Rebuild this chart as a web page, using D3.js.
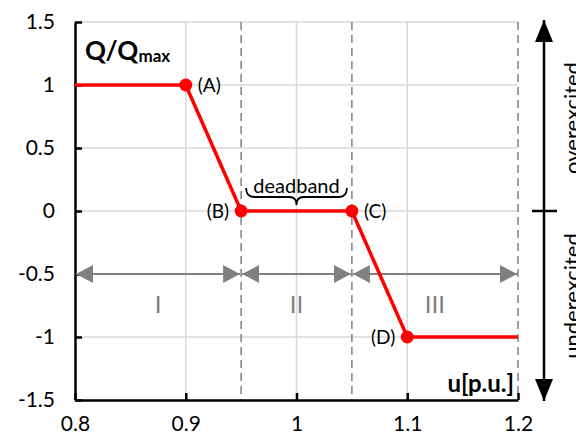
<!DOCTYPE html>
<html>
<head>
<meta charset="utf-8">
<script src="https://cdn.jsdelivr.net/npm/d3@7"></script>
<style>
  body { margin: 0; background: #fff; }
  svg { display: block; font-family: Lato, "Open Sans", sans-serif; }
</style>
</head>
<body>
<svg id="chart" width="576" height="443"></svg>
<script>
// characteristic curve Q(u)
const uPts = [0.8, 0.9, 0.95, 1.05, 1.1, 1.2];
const qPts = [1, 1, 0, 0, -1, -1];
const pointLabels = ["(A)", "(B)", "(C)", "(D)"];
const xTicks = [0.8, 0.9, 1, 1.1, 1.2];
const yTicks = [-1.5, -1, -0.5, 0, 0.5, 1, 1.5];
const bandEdges = [0.8, 0.95, 1.05, 1.2];
const bandNames = ["I", "II", "III"];

const svg = d3.select("#chart");
const x = d3.scaleLinear().domain([0.8, 1.2]).range([75, 518]);
const y = d3.scaleLinear().domain([-1.5, 1.5]).range([400, 22]);

const grey = "#808080";

// horizontal grid
svg.append("g").selectAll("line")
  .data(yTicks.filter(d => d > -1.5))
  .enter().append("line")
  .attr("x1", x(0.8)).attr("x2", x(1.2))
  .attr("y1", d => y(d)).attr("y2", d => y(d))
  .attr("stroke", "#d9d9d9").attr("stroke-width", 1.5);

// vertical grid
svg.append("g").selectAll("line")
  .data([0.9, 1, 1.1])
  .enter().append("line")
  .attr("x1", d => x(d)).attr("x2", d => x(d))
  .attr("y1", y(1.5)).attr("y2", y(-1.5))
  .attr("stroke", "#d9d9d9").attr("stroke-width", 1.5);

// dashed band borders
svg.append("g").selectAll("line")
  .data(bandEdges.slice(1))
  .enter().append("line")
  .attr("x1", d => x(d)).attr("x2", d => x(d))
  .attr("y1", y(1.5)).attr("y2", y(-1.5))
  .attr("stroke", grey).attr("stroke-width", 1.5)
  .attr("stroke-dasharray", "8,5");

// axes (plain hyphen for negatives, like the original)
const fmt = d => String(d);
const yAxis = svg.append("g").attr("transform", `translate(${x(0.8)},0)`)
  .call(d3.axisLeft(y).tickValues(yTicks).tickFormat(fmt).tickSizeInner(-7).tickSizeOuter(0).tickPadding(20));
const xAxis = svg.append("g").attr("transform", `translate(0,${y(-1.5)})`)
  .call(d3.axisBottom(x).tickValues(xTicks).tickFormat(fmt).tickSizeInner(-7).tickSizeOuter(0).tickPadding(16));
[yAxis, xAxis].forEach(a => {
  a.select(".domain").attr("stroke", "#000").attr("stroke-width", 2.5);
  a.selectAll(".tick line").attr("stroke", "#000").attr("stroke-width", 2.5);
  a.selectAll("text").attr("font-size", 21).attr("fill", "#000")
    .attr("font-family", "Lato, 'Open Sans', sans-serif");
});

// arrow markers
const defs = svg.append("defs");
function marker(id, color, w, h) {
  defs.append("marker").attr("id", id)
    .attr("viewBox", `0 0 ${h} ${w}`).attr("refX", h).attr("refY", w / 2)
    .attr("markerWidth", h).attr("markerHeight", w)
    .attr("markerUnits", "userSpaceOnUse").attr("orient", "auto-start-reverse")
    .append("path").attr("d", `M0,0L${h},${w / 2}L0,${w}Z`).attr("fill", color);
}
marker("ag", grey, 18, 17);
marker("ab", "#000", 18, 22);

// region arrows
const bands = bandNames.map((n, i) => ({ name: n, a: bandEdges[i], b: bandEdges[i + 1] }));
svg.append("g").selectAll("line")
  .data(bands).enter().append("line")
  .attr("x1", d => x(d.a) + 1).attr("x2", d => x(d.b) - 1)
  .attr("y1", y(-0.5)).attr("y2", y(-0.5))
  .attr("stroke", grey).attr("stroke-width", 2)
  .attr("marker-start", "url(#ag)").attr("marker-end", "url(#ag)");
svg.append("g").selectAll("text")
  .data(bands).enter().append("text")
  .attr("x", d => x((d.a + d.b) / 2)).attr("y", y(-0.5) + 39)
  .attr("text-anchor", "middle").attr("font-size", 24).attr("fill", grey)
  .text(d => d.name);

// deadband brace
const bx1 = x(0.95) + 5, bx2 = x(1.05) - 5, bm = (bx1 + bx2) / 2, by = 197;
svg.append("path")
  .attr("d", `M${bx1},${by - 9} Q${bx1},${by} ${bx1 + 8},${by} L${bm - 7},${by} Q${bm},${by} ${bm},${by + 8} Q${bm},${by} ${bm + 7},${by} L${bx2 - 8},${by} Q${bx2},${by} ${bx2},${by - 9}`)
  .attr("fill", "none").attr("stroke", "#000").attr("stroke-width", 1.8);
svg.append("text").attr("x", bm).attr("y", 193)
  .attr("text-anchor", "middle").attr("font-size", 20).text("deadband");

// curve
const pts = uPts.map((u, i) => ({ u: u, q: qPts[i] }));
svg.append("path").datum(pts)
  .attr("d", d3.line().x(d => x(d.u)).y(d => y(d.q)))
  .attr("fill", "none").attr("stroke", "#ff0000").attr("stroke-width", 3.5);
const knees = pts.slice(1, 5).map((p, i) => ({ ...p, label: pointLabels[i] }));
svg.append("g").selectAll("circle")
  .data(knees).enter().append("circle")
  .attr("cx", d => x(d.u)).attr("cy", d => y(d.q)).attr("r", 6.5)
  .attr("fill", "#ff0000");
svg.append("g").selectAll("text")
  .data(knees).enter().append("text")
  .attr("x", (d, i) => x(d.u) + (i % 2 === 0 ? 12 : -12))
  .attr("y", d => y(d.q) + 7)
  .attr("text-anchor", (d, i) => i % 2 === 0 ? "start" : "end")
  .attr("font-size", 19).text(d => d.label);

// axis titles
const qt = svg.append("text").attr("x", 85).attr("y", 60)
  .attr("font-size", 26).attr("font-weight", "bold");
qt.append("tspan").text("Q/Q");
qt.append("tspan").attr("font-size", 17).attr("dy", 2).text("max");
svg.append("text").attr("x", 514).attr("y", 392)
  .attr("text-anchor", "end").attr("font-size", 24).attr("font-weight", "bold")
  .text("u[p.u.]");

// over/under-excited arrow
const ax = 544;
svg.append("line").attr("x1", ax).attr("x2", ax).attr("y1", y(0)).attr("y2", 20)
  .attr("stroke", "#000").attr("stroke-width", 2.5).attr("marker-end", "url(#ab)");
svg.append("line").attr("x1", ax).attr("x2", ax).attr("y1", y(0)).attr("y2", 401)
  .attr("stroke", "#000").attr("stroke-width", 2.5).attr("marker-end", "url(#ab)");
svg.append("line").attr("x1", ax - 12).attr("x2", ax + 13).attr("y1", y(0)).attr("y2", y(0))
  .attr("stroke", "#000").attr("stroke-width", 2.5);
// side labels run past the right edge, as in the original figure
svg.append("text").attr("transform", `translate(580,118) rotate(-90)`)
  .attr("text-anchor", "middle").attr("font-size", 22).text("overexcited");
svg.append("text").attr("transform", `translate(580,296) rotate(-90)`)
  .attr("text-anchor", "middle").attr("font-size", 22).text("underexcited");
</script>
</body>
</html>
